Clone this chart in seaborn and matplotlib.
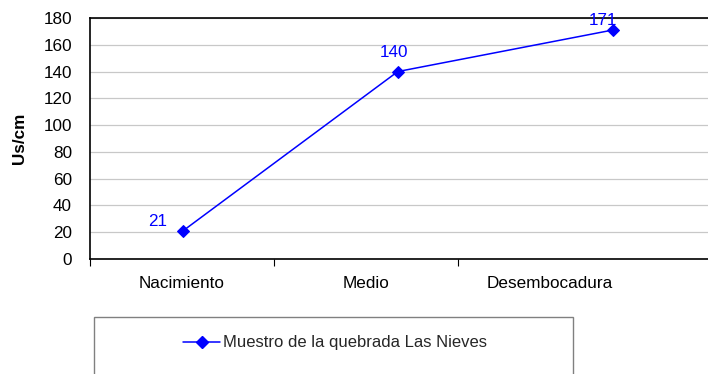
import matplotlib
matplotlib.use("Agg")
import matplotlib.pyplot as plt
from matplotlib.patches import Rectangle
import pandas as pd
import seaborn as sns

# Conductivity along the stream
sites = ["Nacimiento", "Medio", "Desembocadura"]
conductivity = [21, 140, 171]
series_name = "Muestro de la quebrada Las Nieves"
y_label = "Us/cm"
y_ticks = [0, 20, 40, 60, 80, 100, 120, 140, 160, 180]

sns.set_theme(style="white")
plt.rcParams["font.family"] = ["Liberation Sans", "DejaVu Sans"]

BLUE = "#0000ff"
FS = 12.3
df = pd.DataFrame({"site": sites, "value": conductivity})

fig = plt.figure(figsize=(7.08, 3.74), dpi=100)
W, H = 708, 374
# plot area runs past the right edge of the image
ax = fig.add_axes([90 / W, (H - 259) / H, (826 - 90) / W, (259 - 18) / H])

# category axis: four slots, labels centred in the first three
ax.set_xlim(0, 4)
ax.set_ylim(0, 180)
ax.set_yticks(y_ticks)
ax.set_xticks([0, 1, 2])
ax.set_xticklabels([])
ax.set_xticks([0.5, 1.5, 2.5], minor=True)
ax.set_xticklabels(sites, minor=True, fontsize=FS, color="#000000")
ax.tick_params(axis="x", which="minor", length=0, pad=12)
ax.tick_params(axis="x", which="major", length=5, width=0.8, color="#000000", direction="out")
ax.tick_params(axis="y", length=7, width=0.8, color="#606060", direction="out", pad=6,
               labelsize=FS, labelcolor="#000000")
ax.yaxis.grid(True, color="#c8c8c8", linewidth=0.9)
ax.set_axisbelow(True)
for side in ["left", "bottom", "top"]:
    ax.spines[side].set_visible(True)
    ax.spines[side].set_color("#000000")
    ax.spines[side].set_linewidth(1.2)
ax.spines["right"].set_visible(False)
ax.set_ylabel(y_label, fontsize=FS, fontweight="bold", labelpad=12, color="#000000")

# the series on its own horizontal scale
ax2 = ax.twiny()
sns.lineplot(data=df, x="site", y="value", ax=ax2, color=BLUE, linewidth=1.1,
             marker="D", markersize=6, markeredgecolor=BLUE, sort=False)
ax2.set_xlim(-0.4325, 2.993)
ax2.set_ylim(0, 180)
ax2.set_xticks([])
ax2.set_xlabel("")
ax2.set_ylabel("")
for s in ax2.spines.values():
    s.set_visible(False)

label_offsets = [(-18, 7), (-3, 14), (-7, 7)]
for i, (v, off) in enumerate(zip(conductivity, label_offsets)):
    ax2.annotate(str(v), (i, v), xytext=off, textcoords="offset points",
                 ha="center", va="center", color=BLUE, fontsize=FS, clip_on=False)

# legend box at the bottom
fig.patches.append(Rectangle((94 / W, -0.05), (573 - 94) / W, (H - 317) / H + 0.05,
                             transform=fig.transFigure, fill=False,
                             edgecolor="#808080", linewidth=1.0))
handle = plt.Line2D([], [], color=BLUE, linewidth=1.1, marker="D",
                    markersize=6, markeredgecolor=BLUE)
fig.legend([handle], [series_name], loc="center", frameon=False,
           bbox_to_anchor=(335 / W, (H - 343) / H), fontsize=12,
           handlelength=2.2, handletextpad=0.15)

fig.savefig("out.png", dpi=100)
